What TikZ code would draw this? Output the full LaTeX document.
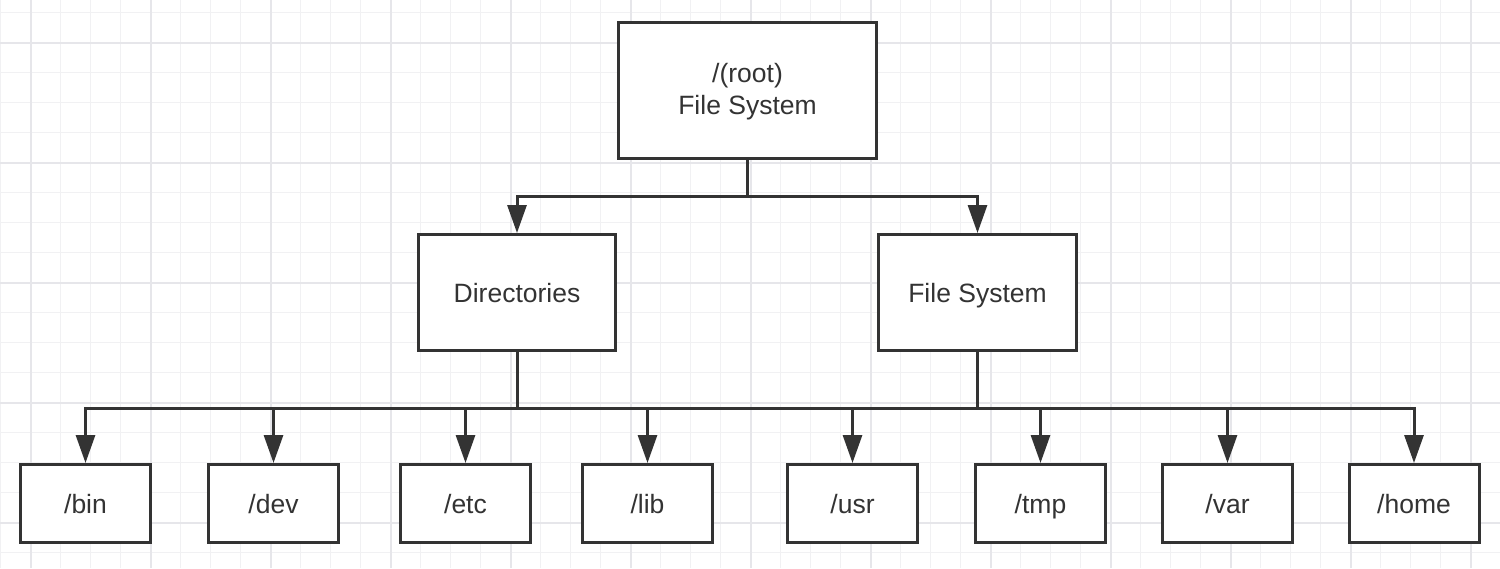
\documentclass[tikz,border=0pt]{standalone}
\usepackage{fontspec}
\setmainfont{Liberation Sans}
\usetikzlibrary{arrows.meta}
\definecolor{ink}{HTML}{333333}
\definecolor{gminor}{HTML}{F1F1F3}
\definecolor{gmajor}{HTML}{E6E6EA}
\tikzset{
  box/.style={draw=ink, line width=3pt, fill=white, text=ink, align=center,
    font=\fontsize{26.5}{32}\selectfont, inner sep=0pt},
  one/.style={box, text height=19pt, text depth=0pt},
  small/.style={one, minimum width=130pt, minimum height=78pt},
  conn/.style={draw=ink, line width=3pt, -{Triangle[width=19pt,length=28pt]}},
  stem/.style={draw=ink, line width=3pt}
}
\begin{document}
\begin{tikzpicture}[x=1pt,y=-1pt]
\useasboundingbox (0,0) rectangle (1500,568);
\fill[white] (0,0) rectangle (1500,568);
% grid
\foreach \i in {0,...,49} {
  \draw[gminor, line width=1.5pt] (0.7+30*\i,0) -- (0.7+30*\i,568);
}
\foreach \j in {0,...,18} {
  \draw[gminor, line width=1.5pt] (0,12.7+30*\j) -- (1500,12.7+30*\j);
}
\foreach \i in {0,...,12} {
  \draw[gmajor, line width=2pt] (30.7+120*\i,0) -- (30.7+120*\i,568);
}
\foreach \j in {0,...,4} {
  \draw[gmajor, line width=2pt] (0,42.7+120*\j) -- (1500,42.7+120*\j);
}
% nodes
\node[box, minimum width=258pt, minimum height=136pt] (root) at (747.5,90.5) {\rule{0pt}{21pt}/(root)\\File System};
\node[one, minimum width=197pt, minimum height=116pt] (dir) at (517,292.5) {Directories};
\node[one, minimum width=198pt, minimum height=116pt] (fs) at (977.5,292.5) {File System};
\node[small] (bin) at (85.5,503.5) {/bin};
\node[small] (dev) at (273.5,503.5) {/dev};
\node[small] (etc) at (465.5,503.5) {/etc};
\node[small] (lib) at (647.5,503.5) {/lib};
\node[small] (usr) at (852.5,503.5) {/usr};
\node[small] (tmp) at (1040.5,503.5) {/tmp};
\node[small] (var) at (1227.5,503.5) {/var};
\node[small] (home) at (1414,503.5) {/home};
% buses
\coordinate (b1) at (747.5,196.5);
\coordinate (b2) at (517,408);
\coordinate (b3) at (977.5,408);
\draw[stem] (root.south) -- (b1);
\draw[conn] (b1) -| (dir.north);
\draw[conn] (b1) -| (fs.north);
\draw[stem] (dir.south) -- (b2);
\draw[stem] (fs.south) -- (b3);
\foreach \n in {bin,dev,etc,lib} { \draw[conn] (b2) -| (\n.north); }
\foreach \n in {usr,tmp,var,home} { \draw[conn] (b3) -| (\n.north); }
\draw[stem] (b2) -- (b3);
\end{tikzpicture}
\end{document}
